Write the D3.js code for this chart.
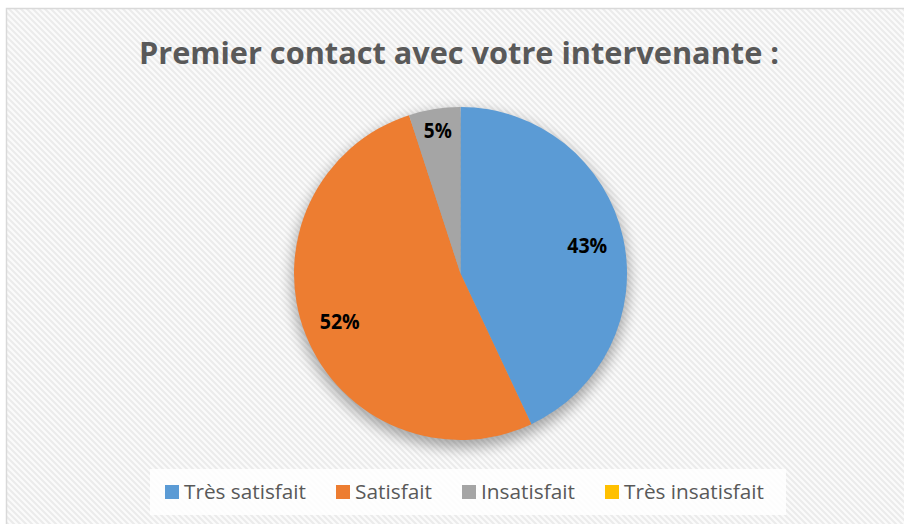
<!DOCTYPE html>
<html><head><meta charset="utf-8">
<script src="https://cdn.jsdelivr.net/npm/d3@7"></script>
<style>html,body{margin:0;padding:0;background:#fff;}svg{display:block;}</style>
</head><body>
<svg id="chart" width="904" height="524"></svg>
<script>
const title = "Premier contact avec votre intervenante :";
const categories = ["Très satisfait", "Satisfait", "Insatisfait", "Très insatisfait"];
const values = [43, 52, 5, 0];
const colors = ["#5B9BD5", "#ED7D31", "#A5A5A5", "#FFC000"];

const svg = d3.select("#chart");
const W = 904, H = 524;
const defs = svg.append("defs");
const pat = defs.append("pattern").attr("id", "hatch").attr("patternUnits", "userSpaceOnUse")
  .attr("width", 6).attr("height", 6);
pat.append("rect").attr("width", 6).attr("height", 6).attr("fill", "#fbfbfb");
pat.append("path").attr("d", "M-1,-1 L7,7 M-1,5 L1,7 M5,-1 L7,1").attr("stroke", "#ebebeb").attr("stroke-width", 2);
const f = defs.append("filter").attr("id", "shadow").attr("x", "-30%").attr("y", "-30%").attr("width", "160%").attr("height", "160%");
f.append("feGaussianBlur").attr("stdDeviation", 7);

svg.append("rect").attr("x", 6.5).attr("y", 8.5).attr("width", W).attr("height", H)
  .attr("fill", "url(#hatch)").attr("stroke", "#d9d9d9").attr("stroke-width", 1.5);

svg.append("text").attr("x", 459).attr("y", 64).attr("text-anchor", "middle")
  .attr("font-family", "Open Sans, sans-serif").attr("font-weight", "bold").attr("font-size", 31)
  .attr("fill", "#595959").attr("textLength", 640).attr("lengthAdjust", "spacingAndGlyphs")
  .text(title);

const cx = 460.5, cy = 273.5, R = 166.5;
const g = svg.append("g").attr("transform", `translate(${cx},${cy})`);
g.append("circle").attr("cx", 0).attr("cy", 6).attr("r", R + 2).attr("fill", "#000").attr("opacity", 0.32)
  .attr("filter", "url(#shadow)");

const pie = d3.pie().sort(null).value(d => d)(values);
const arc = d3.arc().innerRadius(0).outerRadius(R);
g.selectAll("path.slice").data(pie).enter().append("path").attr("class", "slice")
  .attr("d", arc).attr("fill", (d, i) => colors[i]);

const labelArcBig = d3.arc().innerRadius(R * 0.78).outerRadius(R * 0.78);
const labelArcSmall = d3.arc().innerRadius(R * 0.87).outerRadius(R * 0.87);
g.selectAll("text.lbl").data(pie.filter(d => d.value > 0)).enter().append("text").attr("class", "lbl")
  .attr("transform", d => {
    const c = (d.endAngle - d.startAngle) < 0.5 ? labelArcSmall.centroid(d) : labelArcBig.centroid(d);
    return `translate(${c[0]},${c[1]})`;
  })
  .attr("text-anchor", "middle").attr("dy", "0.36em")
  .attr("font-family", "Open Sans, sans-serif").attr("font-weight", "bold").attr("font-size", 20.5)
  .attr("fill", "#000").attr("textLength", d => d.value >= 10 ? 40 : 28).attr("lengthAdjust", "spacingAndGlyphs")
  .text(d => Math.round(d.value / d3.sum(values) * 100) + "%");

const lg = svg.append("g");
lg.append("rect").attr("x", 150).attr("y", 469).attr("width", 636).attr("height", 46).attr("fill", "#fff").attr("opacity", 0.85);
const legX = [165, 336, 462, 605];
const legW = [122, 77, 94, 140];
categories.forEach((c, i) => {
  lg.append("rect").attr("x", legX[i]).attr("y", 485).attr("width", 14).attr("height", 14).attr("fill", colors[i]);
  lg.append("text").attr("x", legX[i] + 19).attr("y", 498.5)
    .attr("font-family", "Open Sans, sans-serif").attr("font-size", 20).attr("fill", "#595959")
    .attr("textLength", legW[i]).attr("lengthAdjust", "spacingAndGlyphs").text(c);
});
</script>
</body></html>
